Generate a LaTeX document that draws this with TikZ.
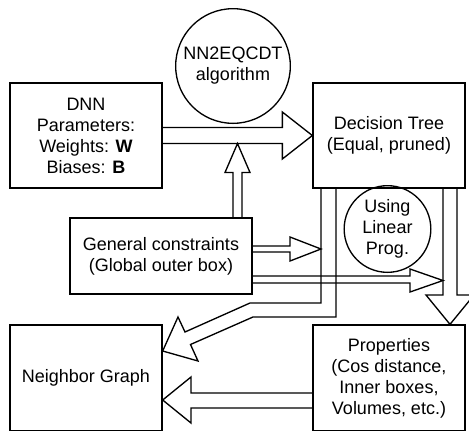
\documentclass[tikz,border=0pt]{standalone}
\usepackage{fontspec}
\setmainfont{Liberation Sans}
\usetikzlibrary{calc}
\begin{document}
\begin{tikzpicture}[x=0.75pt,y=-0.75pt,line width=1pt,line join=miter,
  txt/.style={align=center,inner sep=0pt,font=\fontsize{13.5}{15.75}\selectfont},
  box/.style={txt,draw,rectangle,fill=white,minimum width=114pt,minimum height=78.75pt},
  bubble/.style={txt,draw,circle},
  barrow/.style={draw}]
\useasboundingbox (0,0) rectangle (469,430);
% nodes
\node[box] (dnn) at (86,135.5) {DNN\\Parameters:\\Weights: \textbf{W}\\Biases: \textbf{B}};
\node[box] (dt) at (389,135.5) {Decision Tree\\(Equal, pruned)};
\node[box,minimum width=136.5pt,minimum height=57pt] (gc) at (161,256) {General constraints\\(Global outer box)};
\node[box,minimum height=79.5pt] (ng) at (86,378) {Neighbor Graph};
\node[box,minimum height=79.5pt] (pr) at (389,378) {Properties\\(Cos distance,\\Inner boxes,\\Volumes, etc.)};
\node[bubble,minimum size=86pt] (alg) at (233,66) {NN2EQCDT\\algorithm};
\node[bubble,minimum size=65pt] (lp) at (387.5,229) {Using\\Linear\\Prog.};
% free ends
\coordinate (j2) at (237.5,143.5);
\coordinate (t3) at ($(ng.east)+(0,-27)$);
\coordinate (t5) at (321,249);
\coordinate (t6) at (443,280.5);
\coordinate (t7) at ($(ng.east)+(0,22)$);
% arrow 1: DNN -> DT
\draw[barrow] ($(dnn.east)+(0,-8)$) -- ($(dt.west)+(-30,-8)$) -- ($(dt.west)+(-30,-23.5)$) -- (dt.west)
  -- ($(dt.west)+(-30,23.5)$) -- ($(dt.west)+(-30,8)$) -- ($(dnn.east)+(0,8)$);
% arrow 2: GC -> arrow 1
\draw[barrow] ($(gc.north -| j2)+(-4.5,0)$) -- ($(j2)+(-4.5,29)$) -- ($(j2)+(-12.5,29)$) -- (j2)
  -- ($(j2)+(12.5,29)$) -- ($(j2)+(4.5,29)$) -- ($(gc.north -| j2)+(4.5,0)$);
% arrow 3: DT -> Neighbor Graph
\draw[barrow] ($(dt.south)+(-68,0)$) -- (321,303) -- (250,303) -- (185,332) -- (178,317) -- (t3)
  -- (198,361) -- (190.5,344.5) -- (253,317) -- (336,317) -- ($(dt.south)+(-53,0)$);
% arrow 4: DT -> Properties
\draw[barrow] ($(dt.south)+(54,0)$) -- (443,295) -- (426,295) -- ($(pr.north)+(61,0)$)
  -- (474,295) -- (457,295) -- ($(dt.south)+(68,0)$);
% arrow 5: GC -> arrow 3
\draw[barrow] ($(gc.east)+(0,-10)$) -- (290,246) -- (290,237) -- (t5) -- (290,261) -- (290,252) -- ($(gc.east)+(0,-4)$);
% arrow 6: GC -> arrow 4
\draw[barrow] ($(gc.east)+(0,20)$) -- (410,276) -- (410,269) -- (t6) -- (410,292) -- (410,283) -- ($(gc.east)+(0,27)$);
% arrow 7: Properties -> Neighbor Graph
\draw[barrow] ($(pr.west)+(0,15)$) -- (191,393) -- (191,377) -- (t7) -- (191,423) -- (191,408) -- ($(pr.west)+(0,30)$);
\end{tikzpicture}
\end{document}
